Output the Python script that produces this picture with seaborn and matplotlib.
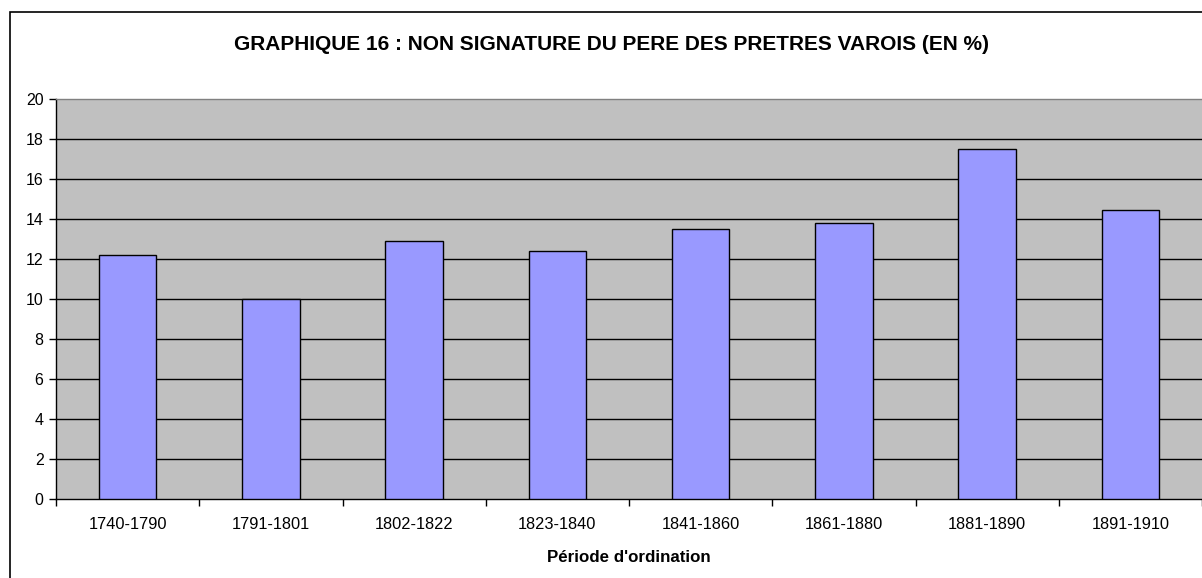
import matplotlib
matplotlib.use("Agg")
import matplotlib.pyplot as plt
import seaborn as sns
import numpy as np
from matplotlib.patches import Rectangle

periods = ["1740-1790", "1791-1801", "1802-1822", "1823-1840",
           "1841-1860", "1861-1880", "1881-1890", "1891-1910"]
values = [12.2, 10.0, 12.9, 12.4, 13.5, 13.8, 17.5, 14.45]
y_ticks = [0, 2, 4, 6, 8, 10, 12, 14, 16, 18, 20]

title = "GRAPHIQUE 16 : NON SIGNATURE DU PERE DES PRETRES VAROIS (EN %)"
xlabel = "Période d'ordination"

sns.set_theme(style="white")
plt.rcParams['font.family'] = ['Liberation Sans', 'DejaVu Sans']
plt.rcParams['text.color'] = 'black'
plt.rcParams['xtick.color'] = 'black'
plt.rcParams['ytick.color'] = 'black'
plt.rcParams['axes.labelcolor'] = 'black'

W, H = 1202, 578
fig = plt.figure(figsize=(W / 100, H / 100), dpi=100)
fig.patch.set_facecolor("white")

left, right = 56 / W, 1.0
bottom, top = (H - 499.3) / H, (H - 99.3) / H
ax = fig.add_axes([left, bottom, right - left, top - bottom])
ax.set_facecolor("#C0C0C0")

sns.barplot(x=periods, y=values, ax=ax, color="#9999FF", saturation=1,
            width=0.4, edgecolor="black", linewidth=1.0, zorder=3)

ax.set_ylim(0, 20)
ax.set_xlim(-0.5, 7.47)
ax.set_yticks(y_ticks)
ax.set_yticklabels([str(t) for t in y_ticks], fontsize=11.5)
for t in y_ticks[1:-1]:
    ax.axhline(t, color="black", lw=1.0, zorder=1)

ax.tick_params(axis="y", which="major", direction="out", length=5, width=1,
               color="black", pad=4, left=True)
ax.tick_params(axis="x", which="major", length=0, labelsize=11.8, pad=13)
ax.set_xticks(np.arange(-0.5, 8.0, 1.0), minor=True)
ax.tick_params(axis="x", which="minor", direction="out", length=5, width=1,
               color="black", bottom=True)
for lab in ax.get_xticklabels():
    lab.set_fontsize(11.8)

ax.spines["left"].set_color("black")
ax.spines["left"].set_linewidth(1.0)
ax.spines["bottom"].set_color("black")
ax.spines["bottom"].set_linewidth(1.0)
ax.spines["top"].set_color("#808080")
ax.spines["top"].set_linewidth(1.0)
ax.spines["right"].set_visible(False)

ax.set_xlabel(xlabel, fontsize=12.2, fontweight="bold", labelpad=13)
ax.set_ylabel("")

fig.text(611 / W, 1 - 44 / H, title, ha="center", va="center",
         fontsize=15, fontweight="bold")

fig.patches.append(Rectangle((9.5 / W, -0.05), 1.2, 1 - 11.5 / H + 0.05,
                             transform=fig.transFigure, fill=False,
                             edgecolor="black", lw=1.2, zorder=10))

fig.savefig("out.png", dpi=100)
